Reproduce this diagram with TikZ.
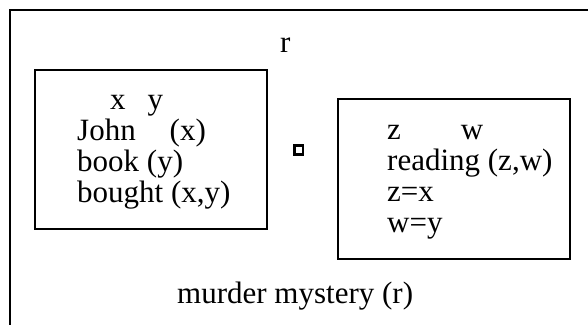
\documentclass[tikz,border=0pt]{standalone}
\usepackage{fontspec}
\setmainfont{Liberation Serif}
\tikzset{
	drsbox/.style={draw, line width=2.2pt, inner sep=0pt},
	cond/.style={anchor=base west, align=left, inner sep=0pt,
		font=\fontsize{31}{31}\selectfont},
	opbox/.style={draw, line width=2.6pt, minimum size=8.6pt, inner sep=0pt},
}

\begin{document}
\begin{tikzpicture}[x=1pt, y=-1pt]
	\clip (0,0) rectangle (588,324);
	% outer box, cut off at right and bottom
	\node[drsbox, anchor=north west, minimum width=640pt, minimum height=360pt]
	(outer) at (9,9) {};
	\node[cond] (ref) at (280,52) {r};

	\node[drsbox, minimum width=232pt, minimum height=159pt] (lbox) at (151,149.5) {};
	% base anchor sits on the last line
	\node[cond] (ltext) at (77,202)
	{\hspace*{33pt}x\hspace{22pt}y\\
	John\hspace{34pt}(x)\\
	book (y)\\
	bought (x,y)};

	\node[opbox] (op) at (298.5,150) {};

	\node[drsbox, minimum width=232pt, minimum height=160pt] (rbox) at (454,179) {};
	\node[cond] (rtext) at (387,232)
	{z\hspace{60pt}w\\
	reading (z,w)\\
	z=x\\
	w=y};

	\node[cond] (pred) at (177,303) {murder mystery (r)};
\end{tikzpicture}
\end{document}
